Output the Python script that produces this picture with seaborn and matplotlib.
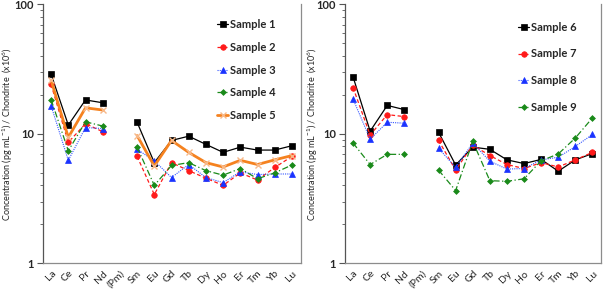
import numpy as np
import pandas as pd
import seaborn as sns
import matplotlib.pyplot as plt
from matplotlib.lines import Line2D
from matplotlib.ticker import LogLocator, NullFormatter

# --- data ---
elements = ['La', 'Ce', 'Pr', 'Nd', '(Pm)', 'Sm', 'Eu', 'Gd', 'Tb', 'Dy', 'Ho', 'Er', 'Tm', 'Yb', 'Lu']
nan = np.nan

sample1 = [28.9, 11.7, 18.3, 17.4, nan, 12.3, 6.0, 8.9, 9.6, 8.3, 7.2, 7.9, 7.5, 7.5, 8.1]
sample2 = [24.1, 8.6, 12.0, 10.4, nan, 6.7, 3.4, 6.0, 5.2, 4.55, 4.0, 5.0, 4.4, 5.5, 6.7]
sample3 = [16.5, 6.25, 11.2, 11.0, nan, 7.6, 6.2, 4.6, 5.8, 4.6, 4.2, 5.1, 4.85, 4.9, 4.9]
sample4 = [18.4, 7.4, 12.4, 11.5, nan, 7.9, 4.0, 5.7, 6.0, 5.2, 4.8, 5.4, 4.5, 5.0, 5.75]
sample5 = [26.0, 9.4, 15.9, 15.3, nan, 9.7, 5.65, 8.9, 7.2, 6.0, 5.55, 6.25, 5.8, 6.3, 6.8]

sample6 = [27.6, 10.5, 16.6, 15.4, nan, 10.3, 5.75, 7.9, 7.6, 6.3, 5.9, 6.35, 5.15, 6.3, 7.05]
sample7 = [22.8, 9.8, 14.1, 13.6, nan, 8.9, 5.25, 8.2, 6.8, 5.8, 5.4, 6.0, 5.55, 6.3, 7.2]
sample8 = [18.6, 9.1, 12.3, 12.1, nan, 7.75, 5.5, 8.5, 6.15, 5.35, 5.4, 6.3, 6.6, 8.0, 9.9]
sample9 = [8.5, 5.8, 6.95, 6.95, nan, 5.25, 3.65, 8.75, 4.35, 4.3, 4.5, 6.2, 7.0, 9.3, 13.3]

# --- styles per series ---
styles = {
    'black':  dict(color='black',   marker='s', ls='-',  lw=0.9, ms=3.8, mfc='black',   mec='black'),
    'red':    dict(color='#ff1a1a', marker='o', ls=(0, (3, 2)), lw=0.9, ms=4.0, mfc='#ff1a1a', mec='#ff1a1a'),
    'blue':   dict(color='#3355ff', marker='^', ls=(0, (1, 1)), lw=0.8, ms=4.0, mfc='#1a33ff', mec='#1a33ff'),
    'green':  dict(color='#1a8a1a', marker='D', ls=(0, (5, 2, 1, 2)), lw=0.9, ms=3.0, mfc='#1a8a1a', mec='#1a8a1a'),
    'orange': dict(color='#f5821f', marker='x', ls='-',  lw=2.0, ms=5.0, mfc='#f7b98a', mec='#f7b98a'),
}

left_series = [('Sample 1', sample1, 'black'), ('Sample 2', sample2, 'red'),
               ('Sample 3', sample3, 'blue'), ('Sample 4', sample4, 'green'),
               ('Sample 5', sample5, 'orange')]
right_series = [('Sample 6', sample6, 'black'), ('Sample 7', sample7, 'red'),
                ('Sample 8', sample8, 'blue'), ('Sample 9', sample9, 'green')]

sns.set_style('white')
plt.rcParams['font.family'] = ['Lato', 'DejaVu Sans']
plt.rcParams['mathtext.default'] = 'regular'

fig = plt.figure(figsize=(6.08, 2.92), dpi=100)
ax_l = fig.add_axes([42.5 / 608, 28.7 / 292, 258 / 608, 258.8 / 292])
ax_r = fig.add_axes([344.5 / 608, 28.7 / 292, 256.5 / 608, 258.8 / 292])


def draw_panel(ax, series, leg_anchor, leg_spacing, label_x):
    handles = []
    for name, vals, key in series:
        st = styles[key]
        mew = 1.0 if key == 'orange' else 0.5
        df = pd.DataFrame({'pos': np.arange(len(elements)), 'val': vals})
        # the Pm gap splits each curve into two segments
        df['seg'] = (df['pos'] > 4).astype(int)
        df = df.dropna()
        sns.lineplot(data=df, x='pos', y='val', units='seg', estimator=None,
                     ax=ax, color=st['color'], linestyle=st['ls'], linewidth=st['lw'],
                     marker=st['marker'], markersize=st['ms'],
                     markerfacecolor=st['mfc'], markeredgecolor=st['mec'],
                     markeredgewidth=mew)
        handles.append(Line2D([], [], color=st['color'], ls=st['ls'], lw=st['lw'],
                              marker=st['marker'], ms=st['ms'], mfc=st['mfc'], mec=st['mec'],
                              mew=mew, label=name))

    ax.set_yscale('log')
    ax.set_ylim(1, 100)
    ax.set_xlim(-0.5, len(elements) - 0.5)
    ax.yaxis.set_minor_locator(LogLocator(base=10, subs=np.arange(2, 10), numticks=10))
    ax.yaxis.set_minor_formatter(NullFormatter())
    ax.set_yticks([1, 10, 100])
    ax.set_yticklabels(['1', '10', '100'], fontsize=8, fontweight='bold')
    ax.set_xticks(np.arange(len(elements)))
    ax.set_xticklabels(elements, rotation=45, ha='right', rotation_mode='anchor', fontsize=7.5)
    ax.tick_params(axis='x', length=0, pad=4)
    ax.tick_params(axis='y', which='major', direction='out', length=4, width=0.8, color='#555555', left=True, pad=2)
    ax.tick_params(axis='y', which='minor', direction='out', length=2.5, width=0.6, color='#555555', left=True)
    ax.set_xlabel('')
    ax.set_ylabel(r'Concentration (pg mL$^{-1}$) / Chondrite  (x10$^{6}$)', fontsize=6.5)
    ax.yaxis.set_label_coords(label_x, 0.5)
    for side in ['right', 'bottom']:
        ax.spines[side].set_color('#8c8c8c')
        ax.spines[side].set_linewidth(0.9)
    ax.spines['left'].set_color('#555555')
    ax.spines['left'].set_linewidth(0.9)
    ax.spines['top'].set_visible(False)

    ax.legend(handles=handles, loc='upper left', bbox_to_anchor=leg_anchor, frameon=False,
              handlelength=1.0, handletextpad=0.15, labelspacing=leg_spacing,
              prop={'size': 8, 'weight': 'bold'}, borderaxespad=0)


draw_panel(ax_l, left_series, (0.66, 0.96), 1.05, -0.105)
draw_panel(ax_r, right_series, (0.66, 0.95), 1.4, -0.097)

fig.savefig('out.png', dpi=100)
